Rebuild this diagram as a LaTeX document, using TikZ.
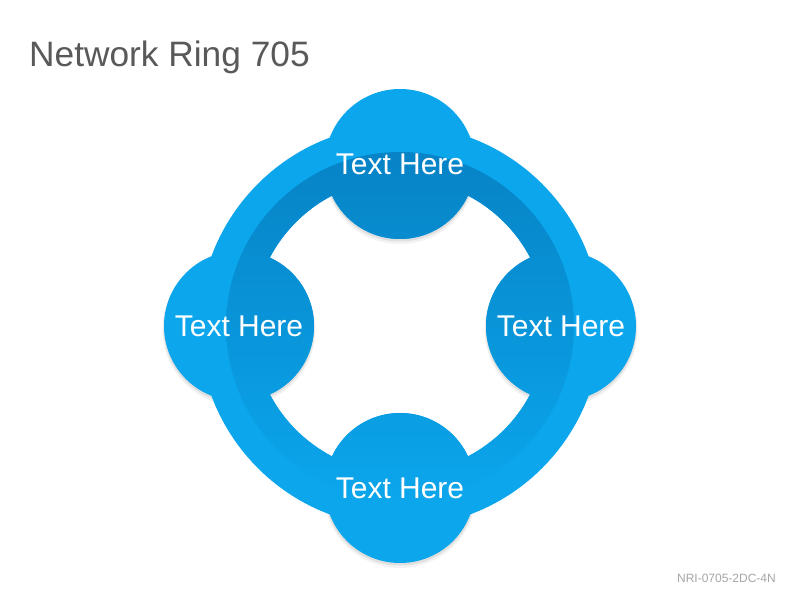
\documentclass[tikz,border=0pt]{standalone}
\usepackage{fontspec}
\setmainfont{Liberation Sans}
\definecolor{ringblue}{HTML}{0BA6EC}
\definecolor{darkblue}{HTML}{0783C6}
\definecolor{titlegray}{HTML}{595959}
\definecolor{codegray}{HTML}{A6A6A6}
\begin{document}
\begin{tikzpicture}[x=1pt,y=1pt,
  blueshape/.style={insert path={
    (O) circle[radius=201pt]
    ([xshift=147pt]O) arc[start angle=0,end angle=-360,radius=147pt]
    (T) circle[radius=75pt]
    (B) circle[radius=75pt]
    (L) circle[radius=75pt]
    (R) circle[radius=75pt]}},
  lbl/.style={text=white, inner sep=0pt, font=\fontsize{30}{36}\selectfont}]
\useasboundingbox[fill=white] (0,0) rectangle (800,600);
\coordinate (O) at (400,274);
\coordinate (T) at (400,436);
\coordinate (B) at (400,112);
\coordinate (L) at (239,274);
\coordinate (R) at (561,274);
% soft shadows under the small circles
\foreach \p in {T,B,L,R}{
  \fill[black, opacity=0.05] ([yshift=-3.5pt]\p) circle[radius=76.5pt];
  \fill[black, opacity=0.08] ([yshift=-2pt]\p) circle[radius=75.5pt];
}
% ring and circles
\fill[ringblue, blueshape];
% darker shading inside
\begin{scope}
  \clip[blueshape];
  \clip (O) circle[radius=174pt];
  \shade[top color=darkblue, bottom color=ringblue] (220,100) rectangle (580,449);
\end{scope}
% labels
\node[lbl] (tT) at (T) {Text Here};
\node[lbl] (tB) at (B) {Text Here};
\node[lbl] (tL) at (L) {Text Here};
\node[lbl] (tR) at (R) {Text Here};
% title and code
\node[anchor=base west, inner sep=0pt, text=titlegray, font=\fontsize{35.3}{42}\selectfont] (title) at (29,533) {Network Ring 705};
\node[anchor=base east, inner sep=0pt, text=codegray, font=\fontsize{12}{14}\selectfont] (code) at (776,18) {NRI-0705-2DC-4N};
\end{tikzpicture}
\end{document}
